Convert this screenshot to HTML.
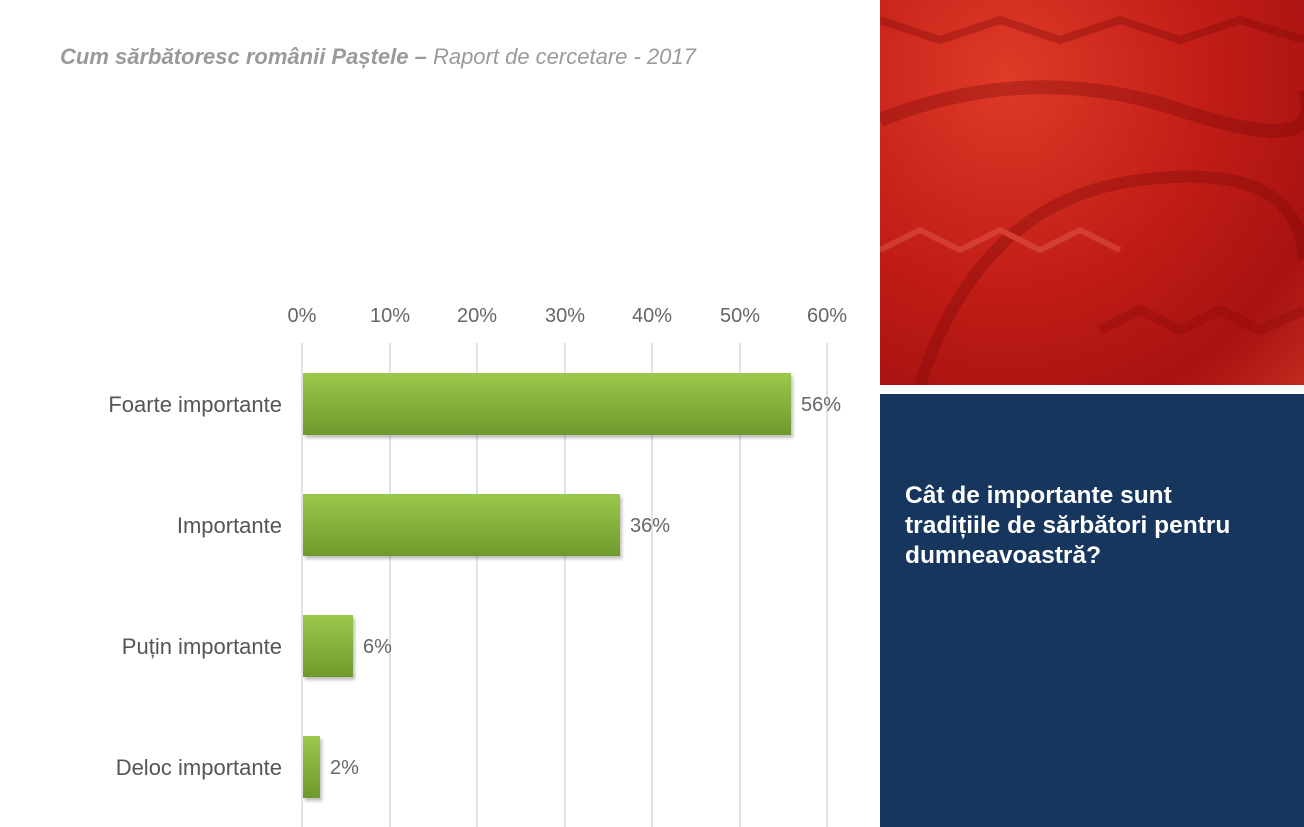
<!DOCTYPE html>
<html><head><meta charset="utf-8"><style>
body{margin:0;width:1304px;height:827px;background:#fff;position:relative;overflow:hidden;font-family:"Liberation Sans","DejaVu Sans",sans-serif}
.t{position:absolute;left:60px;top:44px;font-size:22px;font-style:italic;color:#9a9a9a}
.g{position:absolute;top:343px;width:2px;height:484px;background:#dbe5ef}
.ax{position:absolute;top:305px;font-size:20px;color:#666;width:60px;text-align:center}
.bar{position:absolute;left:303px;height:62px;background:linear-gradient(#9bc84c,#6e9a2c);box-shadow:2px 3px 3px rgba(0,0,0,.25)}
.lab{position:absolute;right:1022px;font-size:22px;color:#555;white-space:nowrap}
.v{position:absolute;font-size:20px;color:#666}
</style></head><body>
<div class="t"><b>Cum sărbătoresc românii Paștele –</b> Raport de cercetare - 2017</div>
<div class="g" style="left:301px"></div><div class="g" style="left:389px"></div><div class="g" style="left:476px"></div><div class="g" style="left:564px"></div><div class="g" style="left:651px"></div><div class="g" style="left:739px"></div><div class="g" style="left:826px"></div>
<div class="ax" style="left:272px">0%</div><div class="ax" style="left:360px">10%</div><div class="ax" style="left:447px">20%</div><div class="ax" style="left:535px">30%</div><div class="ax" style="left:622px">40%</div><div class="ax" style="left:710px">50%</div><div class="ax" style="left:797px">60%</div>
<div class="bar" style="top:373px;width:488px"></div>
<div class="bar" style="top:494px;width:317px"></div>
<div class="bar" style="top:615px;width:50px"></div>
<div class="bar" style="top:736px;width:17px"></div>
<div class="lab" style="top:392px">Foarte importante</div>
<div class="lab" style="top:513px">Importante</div>
<div class="lab" style="top:634px">Puțin importante</div>
<div class="lab" style="top:755px">Deloc importante</div>
<div class="v" style="left:801px;top:394px">56%</div>
<div class="v" style="left:630px;top:515px">36%</div>
<div class="v" style="left:363px;top:636px">6%</div>
<div class="v" style="left:330px;top:757px">2%</div>
<div style="position:absolute;left:880px;top:0;width:424px;height:385px;background:radial-gradient(ellipse at 30% 20%,#e03a28,#c01c16 50%,#a81210 80%,#c02a1f)">
<svg width="424" height="385" style="position:absolute;left:0;top:0;opacity:.35">
<path d="M0 120 Q150 60 300 110 T424 90" stroke="#7a0a08" stroke-width="14" fill="none"/>
<path d="M40 385 Q100 200 260 180 T424 260" stroke="#7a0a08" stroke-width="12" fill="none"/>
<path d="M0 250 L40 230 L80 250 L120 230 L160 250 L200 230 L240 250" stroke="#f07060" stroke-width="6" fill="none"/>
<path d="M220 330 L260 310 L300 330 L340 310 L380 330 L424 310" stroke="#8a0a08" stroke-width="10" fill="none"/>
<path d="M0 20 L60 40 L120 20 L180 40 L240 20 L300 40 L360 20 L424 40" stroke="#7a0a08" stroke-width="8" fill="none"/>
</svg></div>
<div style="position:absolute;left:880px;top:394px;width:424px;height:433px;background:#17365d"></div>
<div style="position:absolute;left:905px;top:481px;font-size:24.5px;font-weight:bold;color:#fff;line-height:30px">Cât de importante sunt<br>tradițiile de sărbători pentru<br>dumneavoastră?</div>
</body></html>
